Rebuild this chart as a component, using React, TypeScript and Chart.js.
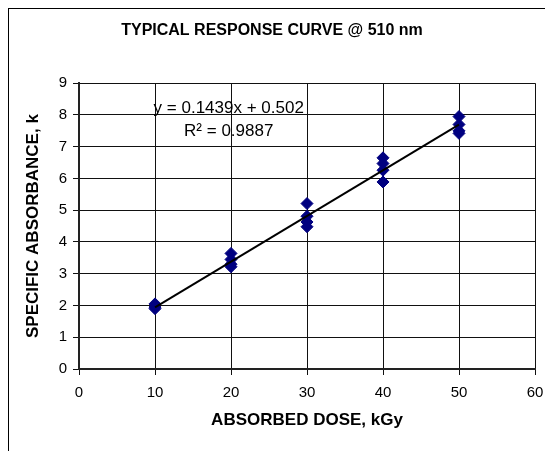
import { useEffect, useRef } from "react";
import { Chart, registerables } from "chart.js";

Chart.register(...registerables);

// Absorbed dose (kGy) of each measured dosimeter
const doseLevels = [10, 10, 10, 20, 20, 20, 20, 30, 30, 30, 30, 40, 40, 40, 40, 50, 50, 50, 50];
// Specific absorbance k read for each dosimeter
const absorbance = [2.05, 1.95, 1.9, 3.64, 3.45, 3.3, 3.22, 5.21, 4.81, 4.63, 4.48, 6.65, 6.47, 6.26, 5.89, 7.95, 7.7, 7.5, 7.42];

// Linear trend line reported on the chart
const trendSlope = 0.1439;
const trendIntercept = 0.502;
const trendRange = [10, 50];

const equationLines = ["y = 0.1439x + 0.502", "R² = 0.9887"];
const equationAnchorX = 19.7;
const equationAnchorY = [8.21, 7.49];

const xTicks = [0, 10, 20, 30, 40, 50, 60];
const yTicks = [0, 1, 2, 3, 4, 5, 6, 7, 8, 9];

const FONT = '"Liberation Sans", Arial, Helvetica, sans-serif';

export default function App() {
  const ref = useRef<HTMLCanvasElement>(null);

  useEffect(() => {
    const canvas = ref.current;
    if (!canvas) return;

    const equationPlugin = {
      id: "equationLabels",
      afterDatasetsDraw(chart: any) {
        const { ctx, scales } = chart;
        const x = scales.x;
        const y = scales.y;
        ctx.save();
        ctx.font = `17px ${FONT}`;
        ctx.fillStyle = "#000";
        ctx.textAlign = "center";
        ctx.textBaseline = "middle";
        const cx = x.getPixelForValue(equationAnchorX);
        equationLines.forEach((line, i) => {
          ctx.fillText(line, cx, y.getPixelForValue(equationAnchorY[i]));
        });
        ctx.restore();
      },
    };

    const points = doseLevels.map((d, i) => ({ x: d, y: absorbance[i] }));
    const trend = trendRange.map((d) => ({ x: d, y: trendSlope * d + trendIntercept }));

    const chart = new Chart(canvas, {
      type: "scatter",
      data: {
        datasets: [
          {
            type: "line",
            label: "Linear trend",
            data: trend,
            borderColor: "#000",
            borderWidth: 2,
            pointRadius: 0,
            fill: false,
          } as any,
          {
            label: "Specific absorbance",
            data: points,
            pointStyle: "rectRot",
            pointRadius: 6,
            backgroundColor: "#000080",
            borderColor: "#000080",
            borderWidth: 1,
          },
        ],
      },
      options: {
        animation: false,
        responsive: false,
        layout: { padding: { left: 0, right: 18, top: 0, bottom: 0 } },
        plugins: {
          legend: { display: false },
          tooltip: { enabled: false },
          title: {
            display: true,
            text: "TYPICAL RESPONSE CURVE @ 510 nm",
            color: "#000",
            font: { family: FONT, size: 16, weight: "bold" },
            padding: { top: 12, bottom: 43 },
          },
        },
        scales: {
          x: {
            type: "linear",
            min: xTicks[0],
            max: xTicks[xTicks.length - 1],
            afterBuildTicks: (s: any) => {
              s.ticks = xTicks.map((v) => ({ value: v }));
            },
            ticks: {
              color: "#000",
              font: { family: FONT, size: 15 },
              padding: 9,
              maxRotation: 0,
            },
            grid: { color: "#111", lineWidth: 1, tickLength: 6 },
            border: { color: "#222", width: 2 },
            title: {
              display: true,
              text: "ABSORBED DOSE, kGy",
              color: "#000",
              font: { family: FONT, size: 17, weight: "bold" },
              padding: { top: 0, bottom: 20 },
            },
            afterFit: (s: any) => {
              s.height = 82;
            },
          },
          y: {
            type: "linear",
            min: yTicks[0],
            max: yTicks[yTicks.length - 1],
            afterBuildTicks: (s: any) => {
              s.ticks = yTicks.map((v) => ({ value: v }));
            },
            ticks: {
              color: "#000",
              font: { family: FONT, size: 15 },
              padding: 6,
            },
            grid: { color: "#111", lineWidth: 1, tickLength: 6 },
            border: { color: "#222", width: 2 },
            title: {
              display: true,
              text: "SPECIFIC ABSORBANCE, k",
              color: "#000",
              font: { family: FONT, size: 17, weight: "bold" },
              padding: { top: 14, bottom: 0 },
            },
            afterFit: (s: any) => {
              s.width = 70;
            },
          },
        },
      },
      plugins: [equationPlugin],
    });

    return () => chart.destroy();
  }, []);

  return (
    <div
      style={{
        marginLeft: -1,
        marginTop: -1,
        borderLeft: "2px solid #000",
        borderTop: "2px solid #000",
        width: 544,
        height: 442,
        background: "#fff",
      }}
    >
      <canvas ref={ref} width={544} height={442} style={{ display: "block", width: 544, height: 442 }} />
    </div>
  );
}
